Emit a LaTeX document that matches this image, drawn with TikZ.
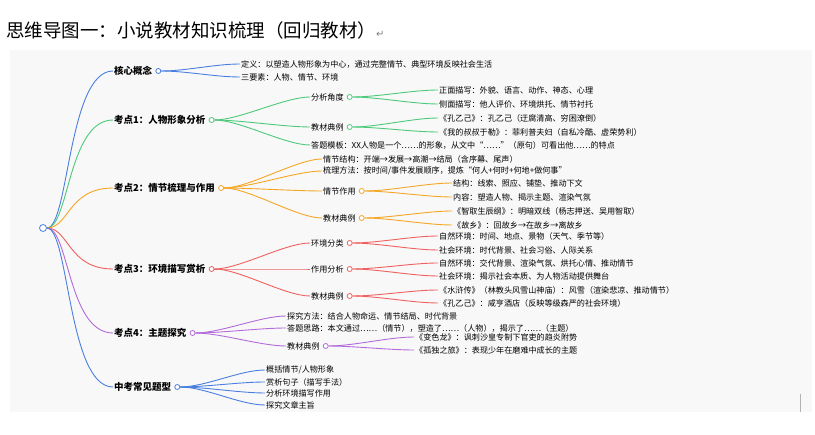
\documentclass[tikz,border=0pt]{standalone}
\usepackage{fontspec}
\usetikzlibrary{calc}
\setmainfont{Noto Sans CJK SC}
\newfontfamily\dejavu{DejaVu Sans}
\begin{document}
\begin{tikzpicture}[x=1pt,y=-1pt,
 t/.style={anchor=west,inner sep=1pt,font=\fontsize{8.1}{9}\selectfont},
 m/.style={t,font=\fontsize{9.5}{10}\bfseries\selectfont},
 dot/.style={circle,draw=#1,fill=white,line width=0.8pt,minimum size=5pt,inner sep=0pt,anchor=west,xshift=2pt},
 ln/.style={draw=#1,line width=0.9pt},
 ]
\definecolor{cb}{HTML}{4A7FE0}\definecolor{cg}{HTML}{4CC97A}\definecolor{co}{HTML}{F5A623}
\definecolor{cr}{HTML}{F06060}\definecolor{cp}{HTML}{B36BD9}\definecolor{bg}{HTML}{F8F8F8}
\useasboundingbox (0,0) rectangle (815,435);
\fill[bg] (10,50) rectangle (812,412);
\draw[gray!60] (800,394)--(800,412);
\node[anchor=west,inner sep=0pt,font=\fontsize{18.5}{20}\selectfont] (title) at (6,30) {思维导图一：小说教材知识梳理（回归教材）\textcolor{gray}{\dejavu\fontsize{10}{10}\selectfont↵}};
\node[circle,draw=cb,fill=white,line width=0.8pt,minimum size=7pt,inner sep=0pt] (root) at (43,228) {};
\newcommand\br[4]{\draw[ln=#1] (#2.east) .. controls +(#4,0) and +(-#4,0) .. (#3.west);}
% core
\node[m] (k0) at (113,71) {核心概念}; \node[dot=cb] (k0d) at (k0.east) {};
\node[t] (a1) at (240,64) {定义：以塑造人物形象为中心，通过完整情节、典型环境反映社会生活};
\node[t] (a2) at (240,77) {三要素：人物、情节、环境};
\br{cb}{k0d}{a1}{25}\br{cb}{k0d}{a2}{25}
% k1
\node[m] (k1) at (113,120) {考点1：人物形象分析}; \node[dot=cg] (k1d) at (k1.east) {};
\node[t] (b1) at (310,97) {分析角度}; \node[dot=cg] (b1d) at (b1.east) {};
\node[t] (b11) at (438,90) {正面描写：外貌、语言、动作、神态、心理};
\node[t] (b12) at (438,104) {侧面描写：他人评价、环境烘托、情节衬托};
\node[t] (b2) at (310,127) {教材典例}; \node[dot=cg] (b2d) at (b2.east) {};
\node[t] (b21) at (438,118) {《孔乙己》：孔乙己（迂腐清高、穷困潦倒）};
\node[t] (b22) at (438,132) {《我的叔叔于勒》：菲利普夫妇（自私冷酷、虚荣势利）};
\node[t] (b3) at (310,145) {答题模板：XX人物是一个……的形象，从文中“……”（原句）可看出他……的特点};
\br{cg}{k1d}{b1}{25}\br{cg}{k1d}{b2}{25}\br{cg}{k1d}{b3}{25}
\br{cg}{b1d}{b11}{25}\br{cg}{b1d}{b12}{25}\br{cg}{b2d}{b21}{25}\br{cg}{b2d}{b22}{25}
% k2
\node[m] (k2) at (113,188) {考点2：情节梳理与作用}; \node[dot=co] (k2d) at (k2.east) {};
\node[t] (c1) at (322,159) {情节结构：开端→发展→高潮→结局（含序幕、尾声）};
\node[t] (c2) at (322,171) {梳理方法：按时间/事件发展顺序，提炼“何人+何时+何地+做何事”};
\node[t] (c3) at (322,191) {情节作用}; \node[dot=co] (c3d) at (c3.east) {};
\node[t] (c31) at (452,183) {结构：线索、照应、铺垫、推动下文};
\node[t] (c32) at (452,197) {内容：塑造人物、揭示主题、渲染气氛};
\node[t] (c4) at (322,218) {教材典例}; \node[dot=co] (c4d) at (c4.east) {};
\node[t] (c41) at (452,211) {《智取生辰纲》：明暗双线（杨志押送、吴用智取）};
\node[t] (c42) at (452,225) {《故乡》：回故乡→在故乡→离故乡};
\br{co}{k2d}{c1}{25}\br{co}{k2d}{c2}{25}\br{co}{k2d}{c3}{25}\br{co}{k2d}{c4}{25}
\br{co}{c3d}{c31}{25}\br{co}{c3d}{c32}{25}\br{co}{c4d}{c41}{25}\br{co}{c4d}{c42}{25}
% k3
\node[m] (k3) at (113,269) {考点3：环境描写赏析}; \node[dot=cr] (k3d) at (k3.east) {};
\node[t] (d1) at (310,243) {环境分类}; \node[dot=cr] (d1d) at (d1.east) {};
\node[t] (d11) at (438,236) {自然环境：时间、地点、景物（天气、季节等）};
\node[t] (d12) at (438,250) {社会环境：时代背景、社会习俗、人际关系};
\node[t] (d2) at (310,269) {作用分析}; \node[dot=cr] (d2d) at (d2.east) {};
\node[t] (d21) at (438,263) {自然环境：交代背景、渲染气氛、烘托心情、推动情节};
\node[t] (d22) at (438,276) {社会环境：揭示社会本质、为人物活动提供舞台};
\node[t] (d3) at (310,296) {教材典例}; \node[dot=cr] (d3d) at (d3.east) {};
\node[t] (d31) at (438,290) {《水浒传》（林教头风雪山神庙）：风雪（渲染悲凉、推动情节）};
\node[t] (d32) at (438,303) {《孔乙己》：咸亨酒店（反映等级森严的社会环境）};
\br{cr}{k3d}{d1}{25}\br{cr}{k3d}{d2}{25}\br{cr}{k3d}{d3}{25}
\br{cr}{d1d}{d11}{25}\br{cr}{d1d}{d12}{25}\br{cr}{d2d}{d21}{25}\br{cr}{d2d}{d22}{25}\br{cr}{d3d}{d31}{25}\br{cr}{d3d}{d32}{25}
% k4
\node[m] (k4) at (113,333) {考点4：主题探究}; \node[dot=cp] (k4d) at (k4.east) {};
\node[t] (e1) at (286,316) {探究方法：结合人物命运、情节结局、时代背景};
\node[t] (e2) at (286,328) {答题思路：本文通过……（情节），塑造了……（人物），揭示了……（主题）};
\node[t] (e3) at (286,346) {教材典例}; \node[dot=cp] (e3d) at (e3.east) {};
\node[t] (e31) at (414,337) {《变色龙》：讽刺沙皇专制下官吏的趋炎附势};
\node[t] (e32) at (414,350) {《孤独之旅》：表现少年在磨难中成长的主题};
\br{cp}{k4d}{e1}{25}\br{cp}{k4d}{e2}{25}\br{cp}{k4d}{e3}{25}
\br{cp}{e3d}{e31}{25}\br{cp}{e3d}{e32}{25}
% k5
\node[m] (k5) at (113,387) {中考常见题型}; \node[dot=cb] (k5d) at (k5.east) {};
\node[t] (f1) at (265,370) {概括情节/人物形象};
\node[t] (f2) at (265,382) {赏析句子（描写手法）};
\node[t] (f3) at (265,393) {分析环境描写作用};
\node[t] (f4) at (265,405) {探究文章主旨};
\br{cb}{k5d}{f1}{25}\br{cb}{k5d}{f2}{25}\br{cb}{k5d}{f3}{25}\br{cb}{k5d}{f4}{25}
% root links
\foreach \k/\c in {k0/cb,k1/cg,k2/co,k3/cr,k4/cp,k5/cb}
  \draw[ln=\c] (root.east) .. controls ($(root.east)+(22,0)$) and ($(\k.west)+(-45,0)$) .. (\k.west);
\end{tikzpicture}
\end{document}
